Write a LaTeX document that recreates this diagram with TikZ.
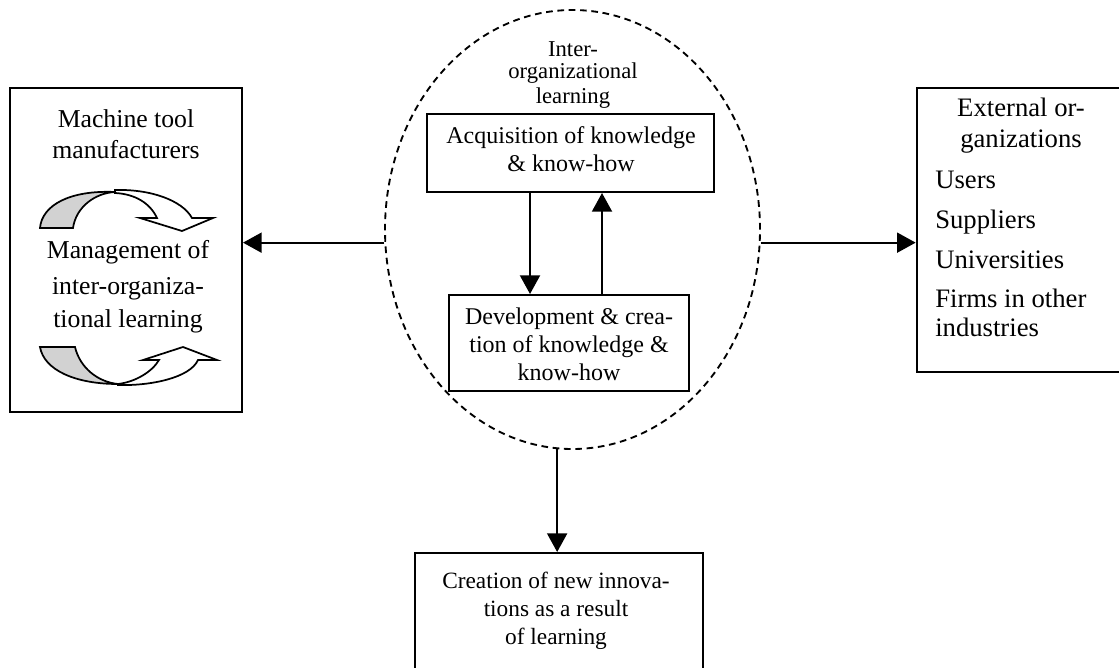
\documentclass[tikz,border=0pt]{standalone}
\usepackage{fontspec}
\setmainfont{Liberation Serif}
\usetikzlibrary{arrows.meta,shapes.geometric,calc}
\begin{document}
\begin{tikzpicture}[x=0.75pt,y=-0.75pt,
  box/.style={draw, line width=1.5pt, inner sep=0pt},
  ell/.style={draw, ellipse, line width=1.4pt, dash pattern=on 5pt off 3.5pt, inner sep=0pt},
  arr/.style={line width=1.5pt, -{Triangle[length=14pt,width=15pt]}},
  lt/.style={inner sep=0pt, anchor=base, font=\fontsize{19.3}{22}\selectfont},
  rt/.style={inner sep=0pt, anchor=base, font=\fontsize{20}{23}\selectfont},
  rl/.style={inner sep=0pt, anchor=base west, font=\fontsize{20}{23}\selectfont},
  ct/.style={inner sep=0pt, anchor=base, font=\fontsize{18}{20}\selectfont},
  bt/.style={inner sep=0pt, anchor=base, font=\fontsize{17.5}{20}\selectfont},
  it/.style={inner sep=0pt, anchor=base, font=\fontsize{17}{19}\selectfont},
  greyarr/.style={draw, line width=1.3pt, fill=gray!35},
  whitearr/.style={draw, line width=1.3pt, fill=white}]
\useasboundingbox (0,0) rectangle (1119,667);

% boxes
\node[box, minimum width=174pt, minimum height=243pt] (lbox) at (126,250) {};
\node[box, minimum width=155pt, minimum height=213pt] (rbox) at (1020,230) {};
\node[box, minimum width=216pt, minimum height=100.5pt] (bbox) at (559,620) {};
\node[ell, minimum width=281.25pt, minimum height=329.25pt] (ell) at (572.5,229.5) {};
\node[box, minimum width=215.25pt, minimum height=58.5pt] (acq) at (570.5,153) {};
\node[box, minimum width=180pt, minimum height=72pt] (dev) at (569,343) {};

% left box text
\node[lt] (l1) at (126,127) {Machine tool};
\node[lt] (l2) at (126,158) {manufacturers};
\node[lt] (l3) at (128,258) {Management of};
\node[lt] (l4) at (128,294) {inter-organiza-};
\node[lt] (l5) at (128,327) {tional learning};

% right box text
\node[rt] (r1) at (1021,116) {External or-};
\node[rt] (r2) at (1021,147) {ganizations};
\node[rl] (r3) at (935,188) {Users};
\node[rl] (r4) at (935,228) {Suppliers};
\node[rl] (r5) at (935,268) {Universities};
\node[rl] (r6) at (935,307) {Firms in other};
\node[rl] (r7) at (935,336) {industries};

% centre text
\node[it] (i1) at (573,56) {Inter-};
\node[it] (i2) at (573,79) {organizational};
\node[it] (i3) at (573,103) {learning};
\node[ct] (a1) at (571,143) {Acquisition of knowledge};
\node[ct] (a2) at (571,171) {\& know-how};
\node[ct] (d1t) at (569,324) {Development \& crea-};
\node[ct] (d2t) at (569,352) {tion of knowledge \&};
\node[ct] (d3t) at (569,380) {know-how};

% bottom text
\node[bt] (b1) at (556,588) {Creation of new innova-};
\node[bt] (b2) at (556,616) {tions as a result};
\node[bt] (b3) at (556,644) {of learning};

% connectors
\draw[arr] (ell.184) -- (ell.184 -| lbox.east);
\draw[arr] (ell.-4) -- (ell.-4 -| rbox.west);
\draw[arr] (ell.266.5) -- (ell.266.5 |- bbox.north);
\coordinate (dn) at ($(acq.south)+(-40.5,0)$);
\coordinate (up) at ($(dev.north)+(33,0)$);
\draw[arr] (dn) -- (dn |- dev.north);
\draw[arr] (up) -- (up |- acq.south);

% curved arrows (top)
\path[greyarr] (40,228) -- (73,228) .. controls (76,207) and (95,193) .. (115,192)
  .. controls (70,190) and (42,205) .. (40,228) -- cycle;
\path[whitearr] (115,190) .. controls (150,189) and (182,200) .. (192,218) -- (213,218)
  -- (182,231) -- (140,218) -- (157,218) .. controls (150,203) and (135,194) .. (115,193) -- cycle;

% curved arrows (bottom)
\path[greyarr] (40,347) -- (75,347) .. controls (80,368) and (98,382) .. (118,384)
  .. controls (75,384) and (44,370) .. (40,347) -- cycle;
\path[whitearr] (118,385) .. controls (150,386) and (190,378) .. (198,360) -- (217,360)
  -- (183,347) -- (143,360) -- (159,360) .. controls (152,372) and (135,382) .. (118,384) -- cycle;
\end{tikzpicture}
\end{document}
